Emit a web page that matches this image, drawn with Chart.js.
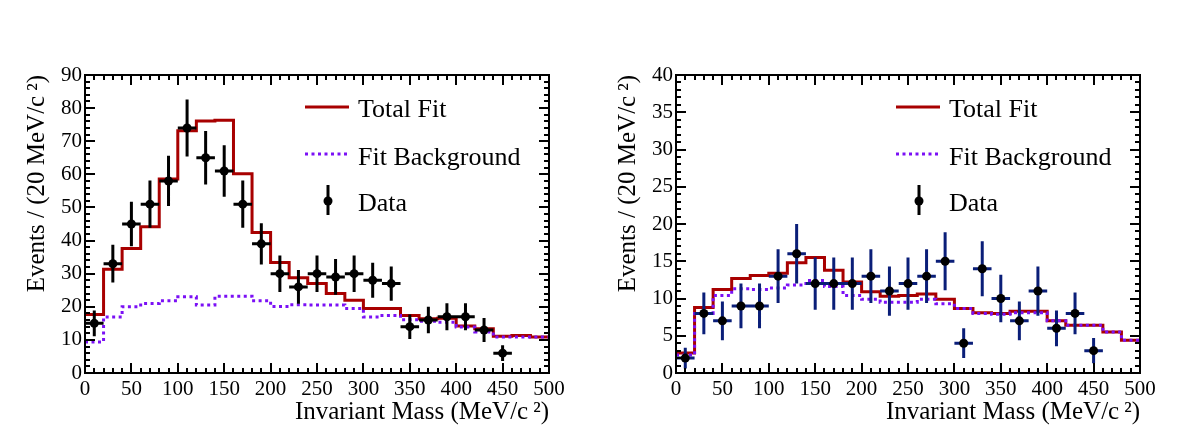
<!DOCTYPE html>
<html>
<head>
<meta charset="utf-8">
<script src="https://cdn.jsdelivr.net/npm/chart.js@4.4.1/dist/chart.umd.min.js"></script>
<style>
  body { margin: 0; background: #fff; }
  #wrap { position: relative; width: 1182px; height: 448px; }
  .panel { position: absolute; top: 0; width: 591px; height: 448px; }
</style>
</head>
<body>
<div id="wrap">
  <div class="panel" style="left:0"><canvas id="leftChart" width="591" height="448"></canvas></div>
  <div class="panel" style="left:591px"><canvas id="rightChart" width="591" height="448"></canvas></div>
</div>
<script>
// bins of 20 MeV/c^2
const binEdges = [0, 20, 40, 60, 80, 100, 120, 140, 160, 180, 200, 220, 240, 260, 280, 300, 320, 340, 360, 380, 400, 420, 440, 460, 480, 500];
const binCenters = [10, 30, 50, 70, 90, 110, 130, 150, 170, 190, 210, 230, 250, 270, 290, 310, 330, 350, 370, 390, 410, 430, 450, 470, 490];
const massTicks = [0, 50, 100, 150, 200, 250, 300, 350, 400, 450, 500];
const leftYTicks = [0, 10, 20, 30, 40, 50, 60, 70, 80, 90];
const rightYTicks = [0, 5, 10, 15, 20, 25, 30, 35, 40];

// left panel
const leftCounts = [15, 33, 45, 51, 58, 74, 65, 61, 51, 39, 30, 26, 30, 29, 30, 28, 27, 14, 16, 17, 17, 13, 6, null, null];
const leftErrors = [3.9, 5.7, 6.7, 7.1, 7.6, 8.6, 8.1, 7.8, 7.1, 6.2, 5.5, 5.1, 5.5, 5.4, 5.5, 5.3, 5.2, 3.7, 4.0, 4.1, 4.1, 3.6, 2.4, null, null];
const leftTotalFit = [17.7, 31.3, 37.6, 44.2, 58.6, 73.2, 76.1, 76.3, 60.2, 42.4, 33.4, 28.8, 27.0, 24.0, 22.0, 19.5, 19.5, 17.4, 16.4, 16.5, 14.2, 13.4, 11.1, 11.3, 10.9];
const leftBackground = [9.4, 16.9, 20.0, 21.0, 21.8, 23.0, 20.5, 23.2, 23.2, 21.8, 20.1, 20.6, 20.5, 20.5, 19.5, 16.9, 17.4, 16.1, 15.6, 15.3, 13.9, 12.4, 10.9, 10.9, 10.9];

// right panel
const rightCounts = [2, 8, 7, 9, 9, 13, 16, 12, 12, 12, 13, 11, 12, 13, 15, 4, 14, 10, 7, 11, 6, 8, 3, null, null];
const rightErrors = [1.4, 2.8, 2.6, 3.0, 3.0, 3.6, 4.0, 3.5, 3.5, 3.5, 3.6, 3.3, 3.5, 3.6, 3.9, 2.0, 3.7, 3.2, 2.6, 3.3, 2.4, 2.8, 1.7, null, null];
const rightTotalFit = [2.7, 8.8, 11.2, 12.7, 13.1, 13.4, 14.8, 15.5, 13.8, 12.2, 10.9, 10.3, 10.4, 10.6, 9.9, 8.65, 8.1, 8.0, 8.3, 8.3, 7.0, 6.4, 6.4, 5.5, 4.4];
const rightBackground = [2.4, 8.0, 10.4, 11.3, 11.2, 11.4, 11.8, 12.4, 11.6, 10.4, 9.9, 9.5, 9.5, 9.9, 9.3, 8.65, 8.0, 7.9, 8.1, 8.1, 7.0, 6.4, 6.4, 5.5, 4.4];

const SERIF = '"Liberation Serif", "DejaVu Serif", serif';
const FIT_RED = '#a80000';
const BKG_VIOLET = '#7b10f5';

// error bars drawn just before the data markers
const errorBars = {
  id: 'errorBars',
  beforeDatasetDraw(chart, args, opts) {
    if (args.index !== 0) return;
    const { ctx, scales: { x, y } } = chart;
    ctx.save();
    ctx.strokeStyle = opts.color;
    ctx.lineWidth = 3;
    ctx.beginPath();
    chart.data.datasets[0].data.forEach(p => {
      const px = x.getPixelForValue(p.x);
      const py = y.getPixelForValue(p.y);
      ctx.moveTo(x.getPixelForValue(p.x - opts.halfBin), py);
      ctx.lineTo(x.getPixelForValue(p.x + opts.halfBin), py);
      ctx.moveTo(px, y.getPixelForValue(p.y - p.err));
      ctx.lineTo(px, y.getPixelForValue(p.y + p.err));
    });
    ctx.stroke();
    ctx.restore();
  }
};

// ROOT style frame with inward ticks on all four sides
const frameTicks = {
  id: 'frameTicks',
  afterDraw(chart, args, opts) {
    const { ctx, chartArea: a, scales: { x, y } } = chart;
    ctx.save();
    ctx.strokeStyle = '#000';
    ctx.lineWidth = 2;
    ctx.beginPath();
    for (let i = 0; x.min + i * opts.xMinor <= x.max; i++) {
      const v = x.min + i * opts.xMinor;
      const px = Math.round(x.getPixelForValue(v));
      const len = massTicks.includes(v) ? 10 : 5;
      ctx.moveTo(px, a.bottom); ctx.lineTo(px, a.bottom - len);
      ctx.moveTo(px, a.top); ctx.lineTo(px, a.top + len);
    }
    for (let i = 0; y.min + i * opts.yMinor <= y.max; i++) {
      const v = y.min + i * opts.yMinor;
      const py = Math.round(y.getPixelForValue(v));
      const len = opts.yMajor.includes(v) ? 10 : 5;
      ctx.moveTo(a.left, py); ctx.lineTo(a.left + len, py);
      ctx.moveTo(a.right, py); ctx.lineTo(a.right - len, py);
    }
    ctx.stroke();
    ctx.strokeRect(a.left, a.top, a.right - a.left, a.bottom - a.top);
    ctx.restore();
  }
};

// legend box inside the frame
const fitLegend = {
  id: 'fitLegend',
  afterDraw(chart) {
    const { ctx, chartArea: a } = chart;
    const x0 = a.left + 220, x1 = a.left + 264, tx = a.left + 273;
    ctx.save();
    ctx.lineWidth = 3;
    ctx.strokeStyle = FIT_RED;
    ctx.beginPath(); ctx.moveTo(x0, 107); ctx.lineTo(x1, 107); ctx.stroke();
    ctx.strokeStyle = BKG_VIOLET;
    ctx.setLineDash([3, 3.5]);
    ctx.beginPath(); ctx.moveTo(x0, 154); ctx.lineTo(x1, 154); ctx.stroke();
    ctx.setLineDash([]);
    ctx.strokeStyle = '#000';
    ctx.beginPath(); ctx.moveTo(a.left + 243, 185); ctx.lineTo(a.left + 243, 215); ctx.stroke();
    ctx.fillStyle = '#000';
    ctx.beginPath(); ctx.arc(a.left + 243, 201, 4.5, 0, Math.PI * 2); ctx.fill();
    ctx.font = '26px ' + SERIF;
    ctx.textBaseline = 'alphabetic';
    ctx.fillText('Total Fit', tx, 117);
    ctx.fillText('Fit Background', tx, 165);
    ctx.fillText('Data', tx, 211);
    ctx.restore();
  }
};

function stepPoints(values) {
  return binEdges.map((e, i) => ({ x: e, y: values[Math.min(i, values.length - 1)] }));
}

function dataPoints(counts, errors) {
  const pts = [];
  counts.forEach((c, i) => {
    if (c !== null) pts.push({ x: binCenters[i], y: c, err: errors[i] });
  });
  return pts;
}

function createPanel(canvasId, counts, errors, totalFit, background, yTicks, yMax, yMinor, barColor) {
  const ctx = document.getElementById(canvasId).getContext('2d');
  const tickFont = { family: SERIF, size: 21 };
  const titleFont = { family: SERIF, size: 25 };
  return new Chart(ctx, {
    type: 'scatter',
    data: {
      datasets: [{
        label: 'Data',
        data: dataPoints(counts, errors),
        pointRadius: 4.5,
        pointBackgroundColor: '#000',
        pointBorderWidth: 0
      }, {
        type: 'line',
        label: 'Fit Background',
        data: stepPoints(background),
        stepped: 'before',
        borderColor: BKG_VIOLET,
        borderWidth: 3,
        borderDash: [3, 3.5],
        pointRadius: 0,
        fill: false
      }, {
        type: 'line',
        label: 'Total Fit',
        data: stepPoints(totalFit),
        stepped: 'before',
        borderColor: FIT_RED,
        borderWidth: 3,
        pointRadius: 0,
        fill: false
      }]
    },
    options: {
      responsive: false,
      animation: false,
      layout: { padding: { top: 75, right: 42, left: 0, bottom: 0 } },
      scales: {
        x: {
          type: 'linear',
          min: 0,
          max: 500,
          grid: { display: false, drawTicks: false },
          border: { display: false },
          afterBuildTicks: s => { s.ticks = massTicks.map(v => ({ value: v })); },
          afterFit: s => { s.height = 75; },
          ticks: { font: tickFont, color: '#000', padding: 4, maxRotation: 0, autoSkip: false },
          title: {
            display: true, text: 'Invariant Mass (MeV/c\u2009²)', align: 'end',
            font: titleFont, color: '#000', padding: { top: 0, bottom: 21 }
          }
        },
        y: {
          type: 'linear',
          min: 0,
          max: yMax,
          grid: { display: false, drawTicks: false },
          border: { display: false },
          afterBuildTicks: s => { s.ticks = yTicks.map(v => ({ value: v })); },
          afterFit: s => { s.width = 85; },
          ticks: { font: tickFont, color: '#000', padding: 3, autoSkip: false },
          title: {
            display: true, text: 'Events / (20 MeV/c\u2009²)', align: 'end',
            font: titleFont, color: '#000', padding: { top: 22, bottom: 0 }
          }
        }
      },
      plugins: {
        legend: { display: false },
        tooltip: { enabled: false },
        errorBars: { color: barColor, halfBin: 10 },
        frameTicks: { xMinor: 10, yMinor: yMinor, yMajor: yTicks }
      }
    },
    plugins: [errorBars, frameTicks, fitLegend]
  });
}

createPanel('leftChart', leftCounts, leftErrors, leftTotalFit, leftBackground, leftYTicks, 90, 2, '#000');
createPanel('rightChart', rightCounts, rightErrors, rightTotalFit, rightBackground, rightYTicks, 40, 1, '#0a1e78');
</script>
</body>
</html>
